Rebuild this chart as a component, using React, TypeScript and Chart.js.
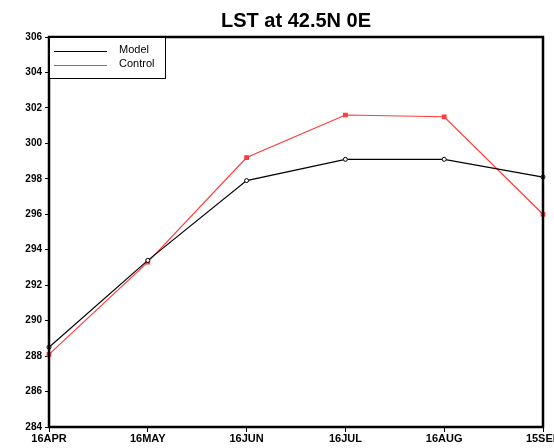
import React, { useEffect, useRef } from "react";
import { Chart, registerables } from "chart.js";

Chart.register(...registerables);

const categories = ["16APR", "16MAY", "16JUN", "16JUL", "16AUG", "15SEP"];
const modelValues = [288.5, 293.4, 297.9, 299.1, 299.1, 298.1];
const controlValues = [288.1, 293.3, 299.2, 301.6, 301.5, 296.0];
const seriesNames = ["Model", "Control"];
const titleText = "LST at 42.5N 0E";
const yMin = 284;
const yMax = 306;
const yStep = 2;

const frameAndLegend = {
  id: "frameAndLegend",
  afterDraw(chart: any) {
    const { ctx, chartArea } = chart;
    const { left, right, top, bottom } = chartArea;
    ctx.save();
    // title
    ctx.fillStyle = "#000";
    ctx.font = "bold 20px 'Liberation Sans', Arial, sans-serif";
    ctx.textAlign = "center";
    ctx.textBaseline = "middle";
    ctx.fillText(titleText, 296, 21);
    // frame
    ctx.strokeStyle = "#000";
    ctx.lineWidth = 2.5;
    ctx.strokeRect(left, top, right - left, bottom - top);
    // legend
    const bx = left, by = top, bw = 116, bh = 41;
    ctx.fillStyle = "#fff";
    ctx.fillRect(bx, by, bw, bh);
    ctx.lineWidth = 1;
    ctx.strokeRect(bx + 0.5, by + 0.5, bw, bh);
    const colors = chart.data.datasets.map((d: any) => d.borderColor);
    ctx.font = "11px 'Liberation Sans Narrow', 'Liberation Sans', Arial, sans-serif";
    ctx.textAlign = "left";
    for (let i = 0; i < seriesNames.length; i++) {
      const y = by + 14 + i * 14;
      ctx.strokeStyle = colors[i];
      ctx.beginPath();
      ctx.moveTo(bx + 5, y + 0.5);
      ctx.lineTo(bx + 58, y + 0.5);
      ctx.stroke();
      ctx.fillStyle = "#000";
      ctx.fillText(seriesNames[i], bx + 70, y - 1);
    }
    ctx.restore();
  },
};

export default function App() {
  const ref = useRef<HTMLCanvasElement>(null);
  useEffect(() => {
    document.body.style.margin = "0";
    const chart = new Chart(ref.current as HTMLCanvasElement, {
      type: "line",
      data: {
        labels: categories,
        datasets: [
          {
            label: seriesNames[0],
            data: modelValues,
            borderColor: "#000000",
            borderWidth: 1.2,
            pointStyle: "circle",
            pointRadius: 2,
            pointBackgroundColor: "#ffffff",
            pointBorderColor: "#000000",
            pointBorderWidth: 1,
            tension: 0,
          },
          {
            label: seriesNames[1],
            data: controlValues,
            borderColor: "#ff3b3b",
            borderWidth: 1.2,
            pointStyle: "rect",
            pointRadius: 2.5,
            pointBackgroundColor: "#ff3b3b",
            pointBorderColor: "#ff3b3b",
            tension: 0,
          },
        ],
      },
      options: {
        animation: false,
        responsive: false,
        layout: { padding: { top: 37, right: 11, left: 0, bottom: 0 } },
        plugins: {
          legend: { display: false },
          title: { display: false },
          tooltip: { enabled: false },
        },
        scales: {
          x: {
            type: "category",
            offset: false,
            grid: { display: true, drawOnChartArea: false, color: "#000", tickLength: 5, lineWidth: 1 },
            border: { display: true, color: "#000", width: 2 },
            ticks: {
              color: "#000",
              font: { family: "'Liberation Sans Narrow', 'Liberation Sans', Arial, sans-serif", size: 11, weight: "bold" },
              padding: 0,
              maxRotation: 0,
              autoSkip: false,
            },
            afterFit(scale: any) {
              scale.height = 21;
              scale.paddingLeft = 0;
              scale.paddingRight = 0;
            },
          },
          y: {
            min: yMin,
            max: yMax,
            grid: { display: true, drawOnChartArea: false, color: "#000", tickLength: 4, lineWidth: 1 },
            border: { display: true, color: "#000", width: 2 },
            ticks: {
              stepSize: yStep,
              color: "#000",
              font: { family: "'Liberation Sans Narrow', 'Liberation Sans', Arial, sans-serif", size: 10, weight: "bold" },
              padding: 3,
            },
            afterFit(scale: any) {
              scale.width = 49;
              scale.paddingTop = 0;
              scale.paddingBottom = 0;
            },
          },
        },
      },
      plugins: [frameAndLegend],
    });
    return () => chart.destroy();
  }, []);
  return <canvas ref={ref} width={554} height={448} style={{ display: "block" }} />;
}
